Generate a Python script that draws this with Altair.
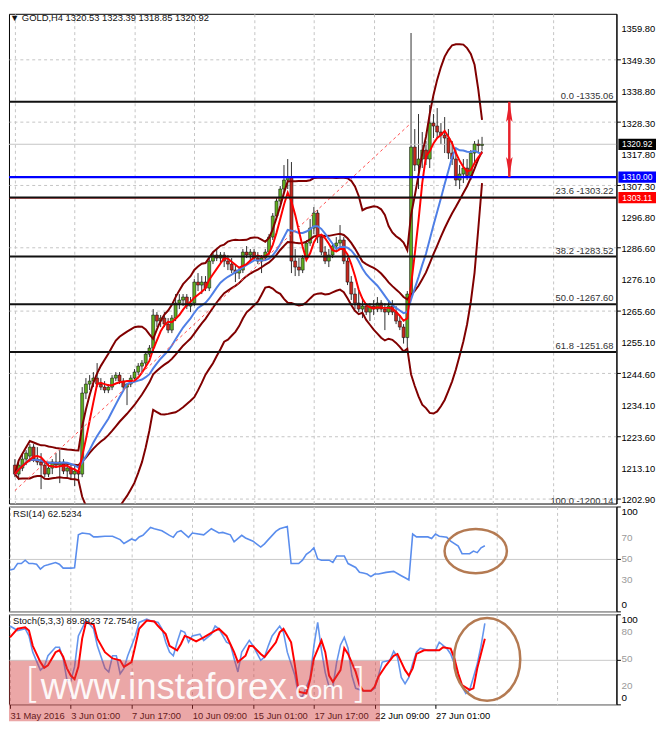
import altair as alt
import pandas as pd

# ---------------- data (GOLD, H4, bar index 0..125) ----------------
opens = [1214, 1211, 1213, 1216, 1217, 1220, 1216, 1215, 1214, 1211, 1213, 1215, 1214, 1215, 1212, 1213, 1211, 1212,
         1211, 1238, 1241, 1242, 1243, 1241, 1240, 1239, 1240, 1243, 1244, 1242, 1240, 1241, 1243, 1245, 1247, 1248, 1251, 1253,
         1264, 1262, 1263, 1261, 1259, 1263, 1268, 1269, 1270, 1267, 1268, 1275, 1274, 1275, 1273, 1282, 1284, 1283, 1284, 1282,
         1281, 1279, 1278, 1279, 1285, 1284, 1285, 1283, 1282, 1283, 1285, 1290, 1297, 1302, 1306, 1309,
         1310, 1282, 1280, 1279, 1283, 1288, 1293, 1298, 1290, 1285, 1282, 1284, 1287, 1288, 1289, 1282, 1275, 1271, 1268, 1266,
         1267, 1265, 1267, 1266, 1268, 1266, 1265, 1267, 1265, 1262, 1260, 1256.5,
         1271, 1320, 1314, 1316, 1319, 1316, 1328, 1327, 1325, 1324, 1323, 1318, 1316, 1309, 1311, 1313, 1310.5, 1318, 1321, 1320.53]
highs = [1216, 1215, 1218, 1219, 1221, 1221, 1220, 1218, 1215, 1215, 1216, 1218, 1219, 1216, 1215, 1214, 1214, 1214,
         1240, 1243, 1244, 1245, 1248, 1243, 1242, 1241, 1244, 1245, 1245, 1243, 1241, 1244, 1246, 1248, 1249, 1252, 1254, 1266,
         1265, 1264, 1265, 1263, 1264, 1271, 1271, 1271, 1271, 1270, 1276, 1278, 1277, 1277, 1283, 1285, 1286, 1285, 1285, 1284,
         1283, 1281, 1280, 1286, 1287, 1286, 1286, 1285, 1284, 1286, 1291, 1298, 1303, 1307, 1314, 1316,
         1315, 1286, 1283, 1284, 1289, 1296, 1300, 1299, 1291, 1287, 1286, 1288, 1290, 1294, 1290, 1283, 1277, 1273, 1272, 1270,
         1268, 1268, 1269, 1270, 1269, 1268, 1269, 1269, 1267, 1264, 1261, 1272,
         1358, 1326, 1331, 1325, 1322, 1334, 1331, 1333, 1328, 1330, 1326, 1322, 1319, 1314, 1316, 1316, 1319, 1322, 1322.5, 1323.39]
lows = [1210, 1209, 1212, 1214, 1215, 1215, 1214, 1206, 1210, 1210, 1211, 1213, 1208, 1211, 1210, 1209, 1207, 1209,
        1210, 1236, 1239, 1240, 1240, 1239, 1238, 1238, 1239, 1242, 1241, 1239, 1234, 1240, 1242, 1244, 1245, 1247, 1250, 1252,
        1260, 1260, 1260, 1258, 1258, 1262, 1266, 1267, 1266, 1265, 1267, 1272, 1271, 1272, 1272, 1281, 1282, 1281, 1280, 1279,
        1278, 1275, 1276, 1278, 1283, 1282, 1282, 1281, 1278, 1282, 1284, 1289, 1296, 1301, 1305, 1306,
        1278, 1277, 1277, 1278, 1282, 1287, 1291, 1288, 1284, 1281, 1280, 1283, 1285, 1286, 1281, 1274, 1269, 1266, 1265, 1263,
        1264, 1262, 1264, 1265, 1265, 1259, 1264, 1264, 1261, 1259, 1254.5, 1251.5,
        1269, 1312, 1306, 1313, 1314, 1313, 1323, 1323, 1321, 1318, 1316, 1314, 1307, 1306, 1308, 1309, 1309, 1315, 1318, 1318.85]
closes = [1211, 1214, 1216, 1218, 1220, 1216, 1215, 1214, 1211, 1213, 1215, 1214, 1215, 1212, 1213, 1211, 1212, 1211,
          1238, 1241, 1242, 1243, 1241, 1240, 1239, 1240, 1243, 1244, 1242, 1240, 1241, 1243, 1245, 1247, 1248, 1251, 1253, 1264,
          1262, 1263, 1261, 1259, 1263, 1268, 1269, 1270, 1267, 1268, 1275, 1274, 1275, 1273, 1282, 1284, 1283, 1284, 1282, 1281,
          1279, 1278, 1279, 1285, 1284, 1285, 1283, 1282, 1283, 1285, 1290, 1297, 1302, 1306, 1309, 1310,
          1282, 1280, 1279, 1283, 1288, 1293, 1298, 1290, 1285, 1282, 1284, 1287, 1288, 1289, 1282, 1275, 1271, 1268, 1266, 1267,
          1265, 1267, 1266, 1268, 1266, 1265, 1267, 1265, 1262, 1260, 1256.5, 1271,
          1320, 1314, 1316, 1319, 1316, 1328, 1327, 1325, 1324, 1323, 1318, 1316, 1309, 1311, 1313, 1310.5, 1318, 1321, 1320.5, 1320.92]

price_ticks = [1359.80, 1349.30, 1338.80, 1328.30, 1317.80, 1307.30, 1296.80, 1286.60,
               1276.10, 1265.60, 1255.10, 1244.60, 1234.10, 1223.60, 1213.10, 1202.90]
fib_levels = [1335.06, 1303.22, 1283.52, 1267.60, 1251.68, 1200.14]
fib_pcts = ["0.0", "23.6", "38.2", "50.0", "61.8", "100.0"]

rsi_ticks = [0, 30, 50, 70, 100]
sto_ticks = [0, 20, 50, 80, 100]

time_tick_bars = [0, 16, 32, 48, 64, 80, 96, 112]
time_tick_labels = ["31 May 2016", "3 Jun 01:00", "7 Jun 17:00", "10 Jun 09:00",
                    "15 Jun 01:00", "17 Jun 17:00", "22 Jun 09:00", "27 Jun 01:00"]
grid_bars = [0, 8, 16, 24, 32, 40, 48, 56, 64, 72, 80, 88, 96, 104, 112, 120, 128, 136, 144, 152]

rsi_bars = [0, 1, 2, 3, 4, 5, 6, 7, 8, 9, 10, 12, 13, 14, 16, 17, 18, 19, 21, 22, 23, 25, 27, 29, 30, 32, 33, 34, 35,
            37, 38, 40, 42, 43, 44, 45, 47, 48, 51, 53, 55, 56, 58, 59, 61, 62, 64, 66, 67, 68, 70, 71, 73, 74, 76, 77,
            78, 79, 80, 81, 82, 84, 85, 86, 88, 89, 91, 92, 93, 94, 95, 96, 97, 99, 101, 103, 104, 105, 106, 107, 110,
            111, 112, 113, 115, 116, 118, 119, 121, 122, 123, 124, 125]
rsi_vals = [39.4, 40.3, 45.6, 45.6, 48.8, 45.6, 45.6, 45.0, 40.3, 43.4, 44.4, 46.6, 45.0, 41.2, 41.2, 41.5, 73.0, 74.7,
            73.7, 71.0, 71.0, 71.6, 71.6, 68.4, 64.7, 69.0, 67.5, 71.0, 72.5, 80.0, 78.8, 76.9, 72.5, 70.6, 75.6, 76.9,
            70.6, 74.7, 73.0, 78.8, 74.7, 75.3, 73.0, 66.3, 72.5, 70.0, 66.9, 61.3, 64.4, 68.4, 76.3, 78.8, 81.0, 45.6,
            45.6, 48.8, 54.4, 56.9, 60.6, 50.0, 48.8, 48.8, 46.6, 52.8, 52.8, 45.6, 41.9, 37.2, 36.5, 35.6, 33.1, 35.6,
            35.6, 37.2, 38.1, 34.0, 32.0, 30.0, 73.7, 71.0, 71.0, 69.4, 73.7, 71.6, 70.6, 66.9, 62.2, 55.0, 55.0, 57.5,
            56.0, 60.6, 62.5]

stk_bars = [0, 2, 4, 5, 6, 8, 9, 10, 12, 13, 14, 15, 16, 17, 18, 20, 21, 22, 23, 25, 26, 27, 28, 29, 30, 31, 33, 34,
            36, 37, 39, 40, 41, 42, 43, 44, 45, 46, 47, 48, 50, 51, 53, 54, 55, 57, 58, 59, 60, 61, 63, 64, 66, 67, 68,
            69, 71, 72, 73, 75, 76, 77, 79, 80, 81, 82, 83, 84, 85, 86, 87, 88, 89, 90, 91, 93, 95, 96, 97, 98, 100,
            101, 102, 103, 104, 105, 106, 107, 108, 110, 112, 113, 115, 116, 117, 118, 119, 120, 121, 122, 123, 124, 125]
stk_vals = [87, 82, 84, 76, 58, 38, 41.6, 54, 63.5, 63.5, 51, 27, 26, 41.6, 76, 93, 89, 84, 65, 40, 36, 54, 54, 34, 40,
            54, 76, 91, 94.6, 93, 91, 84, 69, 58, 54, 69, 82, 80, 69, 76, 78, 71, 78, 87, 84, 69, 67, 51, 36, 58, 71, 65,
            49, 52.5, 65, 76, 87, 80, 58, 32, 9, 9, 29, 65, 91, 60, 35, 19.6, 19.6, 47, 66, 74.5, 62, 32, 17.8, 15, 15,
            17.8, 32, 47, 49, 59, 52.5, 30, 23, 30, 45, 58, 62.4, 60, 60, 69, 62, 56, 45, 33, 20, 12, 16, 30, 45, 65, 89.9]

std_bars = [0, 2, 4, 5, 6, 8, 9, 10, 12, 13, 14, 15, 16, 17, 18, 19, 20, 22, 23, 25, 27, 29, 30, 32, 33, 34, 36, 38,
            39, 41, 42, 44, 45, 46, 47, 49, 51, 52, 54, 55, 57, 58, 59, 60, 62, 63, 64, 66, 67, 68, 70, 71, 72, 74, 75,
            76, 78, 79, 80, 82, 83, 84, 85, 87, 88, 89, 91, 92, 93, 95, 96, 97, 99, 101, 102, 103, 104, 105, 106, 107,
            109, 111, 113, 114, 116, 117, 118, 119, 121, 122, 123, 125]
std_vals = [74.5, 84, 85.5, 82, 65, 47, 40.5, 43.4, 58, 60, 53, 40, 32, 28, 41.6, 73, 91, 89, 73, 58, 51, 49, 41.6, 47,
            65, 84, 93, 92, 87, 78, 65, 60, 67, 76, 74.5, 70, 74.5, 77, 82, 84, 76, 67, 58, 47, 54, 65, 64.6, 56, 52.5,
            58, 69, 80, 84, 69, 43.4, 14, 12, 27, 51, 71, 58, 32, 25, 38, 62.4, 56, 36, 21.4, 15, 15, 19.6, 30.6, 43.4,
            54, 56, 47, 38, 32, 40, 56, 60, 60, 60, 63.5, 62, 51, 34, 21.4, 16, 17.8, 40, 72.8]

trend_bars = [0, 106]
trend_prices = [1205.5, 1328.0]

level_prices = [1320.92, 1310.00, 1303.11]
level_texts = ["1320.92", "1310.00", "1303.11"]
level_line_colors = ["#c4c4c4", "#0000ff", "#ff0000"]
level_badge_colors = ["#000000", "#0000ff", "#ff0000"]

arrow_bar = 132.3
arrow_top = 1335.06
arrow_bottom = 1310.00

rsi_circle = {"bar": [122.6], "v": [57.5]}
sto_circle = {"bar": [125.6], "v": [50.0]}

# ---------------- layout / style ----------------
W = 614
H_MAIN, H_RSI, H_STO = 495, 106, 91
FONT = "Liberation Sans"
GRID = "#c4c4c4"
BULL, BEAR = "#5fae1e", "#c8281e"
MAROON = "#800000"
BLUE_MA = "#4f7fe6"
RSI_BLUE = "#5a8ded"
LBL_X = W + 5

xs = alt.Scale(domain=[-0.26, 159.64], nice=False, zero=False)
ys = alt.Scale(domain=[1201.2, 1364.4], nice=False, zero=False)
ps = alt.Scale(domain=[0, 100], nice=False, zero=False)


def XQ(**kw):
    return alt.X("bar:Q", scale=xs, **kw)


def YP(field, **kw):
    return alt.Y(field, scale=ys, **kw)


def YS(field, **kw):
    return alt.Y(field, scale=ps, **kw)


grid_x_axis = alt.Axis(values=grid_bars, labels=False, ticks=False, domain=False, grid=True,
                       gridDash=[3, 3], gridColor=GRID, title=None)
price_axis = alt.Axis(orient="right", values=price_ticks, labels=False, grid=True, gridDash=[3, 3],
                      gridColor=GRID, title=None, tickSize=4, tickColor="black", domainColor="black")

ohlc = pd.DataFrame({"bar": list(range(len(closes))), "o": opens, "h": highs, "l": lows, "c": closes})
base = alt.Chart(ohlc)

wicks = base.mark_rule(color="#303030", strokeWidth=1, clip=True).encode(
    x=XQ(axis=grid_x_axis), y=YP("l:Q", axis=price_axis), y2="h:Q")
bodies = base.mark_bar(size=3, stroke="#1a1a1a", strokeWidth=0.6, clip=True).encode(
    x=XQ(), y=YP("o:Q"), y2="c:Q",
    color=alt.condition("datum.c >= datum.o", alt.value(BULL), alt.value(BEAR)))

ind = (
    base.transform_calculate(c2="datum.c * datum.c")
    .transform_window(sma5="mean(c)", frame=[-4, 0], sort=[alt.SortField("bar")])
    .transform_window(sma13="mean(c)", frame=[-12, 0], sort=[alt.SortField("bar")])
    .transform_window(sma20="mean(c)", m2="mean(c2)", frame=[-19, 0], sort=[alt.SortField("bar")])
    .transform_calculate(sd="sqrt(max(0, datum.m2 - datum.sma20 * datum.sma20))")
    .transform_calculate(bbu="datum.sma20 + 2 * datum.sd", bbl="datum.sma20 - 2 * datum.sd")
)


def ind_line(field, color, w):
    return ind.mark_line(color=color, strokeWidth=w, clip=True).encode(x=XQ(), y=YP(f"{field}:Q"))


levels = pd.DataFrame({"y": level_prices, "txt": level_texts, "lc": level_line_colors, "bc": level_badge_colors})
gray_line = alt.Chart(levels.iloc[[0]]).mark_rule(strokeWidth=1, clip=True).encode(
    y=YP("y:Q"), color=alt.Color("lc:N", scale=None))
red_line = alt.Chart(levels.iloc[[2]]).mark_rule(strokeWidth=1.5, clip=True).encode(
    y=YP("y:Q"), color=alt.Color("lc:N", scale=None))
blue_line = alt.Chart(levels.iloc[[1]]).mark_rule(strokeWidth=2.2, clip=True).encode(
    y=YP("y:Q"), color=alt.Color("lc:N", scale=None))

fib = pd.DataFrame({"y": fib_levels, "label": [f"{p} -{v:.2f}" for p, v in zip(fib_pcts, fib_levels)]})
fib_rules = alt.Chart(fib).mark_rule(color="#111111", strokeWidth=2, clip=True).encode(y=YP("y:Q"))
fib_text = alt.Chart(fib).mark_text(align="right", baseline="bottom", dx=-3, dy=-1, fontSize=9.5, font=FONT,
                                    color="#333333", clip=True).encode(
    x=alt.value(W), y=YP("y:Q"), text="label:N")

trend = alt.Chart(pd.DataFrame({"bar": trend_bars, "y": trend_prices})).mark_line(
    color="#ff5050", strokeWidth=1, strokeDash=[3, 3], clip=True).encode(x=XQ(), y=YP("y:Q"))

arrow_df = pd.DataFrame({"bar": [arrow_bar, arrow_bar], "y": [arrow_top, arrow_bottom]})
shaft = alt.Chart(arrow_df).mark_line(color="#e8212b", strokeWidth=2.5).encode(x=XQ(), y=YP("y:Q"))
head_up = alt.Chart(arrow_df.iloc[[0]]).mark_point(
    shape="M0,-1L0.32,1L0,0.62L-0.32,1Z", filled=True, size=420, color="#e8212b", opacity=1, yOffset=10
).encode(x=XQ(), y=YP("y:Q"))
head_dn = alt.Chart(arrow_df.iloc[[1]]).mark_point(
    shape="M0,1L0.32,-1L0,-0.62L-0.32,-1Z", filled=True, size=420, color="#e8212b", opacity=1, yOffset=-10
).encode(x=XQ(), y=YP("y:Q"))

price_lbl_df = pd.DataFrame({"y": price_ticks, "t": [f"{v:.2f}" for v in price_ticks]})
price_lbl = alt.Chart(price_lbl_df).mark_text(align="left", baseline="middle", dy=1.5, fontSize=9.5, font=FONT,
                                              color="black").encode(x=alt.value(LBL_X), y=YP("y:Q"), text="t:N")

badge_bg = alt.Chart(levels).mark_point(
    shape="M-1,-0.3L1,-0.3L1,0.3L-1,0.3Z", filled=True, size=1444, opacity=1, strokeWidth=0
).encode(x=alt.value(W + 21), y=YP("y:Q"), color=alt.Color("bc:N", scale=None))
badge_tx = alt.Chart(levels).mark_text(color="white", fontSize=8.5, font=FONT).encode(
    x=alt.value(W + 21), y=YP("y:Q"), text="txt:N")

one = pd.DataFrame({"t": ["\u25bc GOLD,H4  1320.53 1323.39 1318.85 1320.92"]})
title_main = alt.Chart(one).mark_text(align="left", baseline="middle", fontSize=9.5, font=FONT,
                                      color="#111111").encode(x=alt.value(1), y=alt.value(4), text="t:N")

main = alt.layer(
    wicks, gray_line, bodies,
    ind_line("bbu", MAROON, 2), ind_line("sma20", MAROON, 2), ind_line("bbl", MAROON, 2),
    ind_line("sma13", BLUE_MA, 2), ind_line("sma5", "#ff0000", 2),
    trend, red_line, fib_rules, blue_line, fib_text,
    shaft, head_up, head_dn, price_lbl, badge_bg, badge_tx, title_main,
).properties(width=W, height=H_MAIN)


def ellipse_path(ry):
    k = 0.5523
    return (f"M1,0C1,{k*ry:.3f} {k:.3f},{ry:.3f} 0,{ry:.3f}"
            f"C{-k:.3f},{ry:.3f} -1,{k*ry:.3f} -1,0"
            f"C-1,{-k*ry:.3f} {-k:.3f},{-ry:.3f} 0,{-ry:.3f}"
            f"C{k:.3f},{-ry:.3f} 1,{-k*ry:.3f} 1,0Z")


def osc_labels(ticks):
    """Right-hand labels of an oscillator panel: ends flush and black, inner levels grey."""
    df = pd.DataFrame({"v": ticks, "t": [str(v) for v in ticks]})
    top = alt.Chart(df[df.v == max(ticks)]).mark_text(
        align="left", baseline="top", dy=1, fontSize=10, font=FONT, color="black").encode(
        x=alt.value(LBL_X), y=YS("v:Q"), text="t:N")
    mid = alt.Chart(df[(df.v > min(ticks)) & (df.v < max(ticks))]).mark_text(
        align="left", baseline="middle", fontSize=10, font=FONT, color="#9a9a9a").encode(
        x=alt.value(LBL_X), y=YS("v:Q"), text="t:N")
    bot = alt.Chart(df[df.v == min(ticks)]).mark_text(
        align="left", baseline="bottom", dy=-1, fontSize=10, font=FONT, color="black").encode(
        x=alt.value(LBL_X), y=YS("v:Q"), text="t:N")
    return [top, mid, bot]


# ---------------- RSI panel ----------------
rsi_axis = alt.Axis(orient="right", values=rsi_ticks, labels=False, grid=True, gridColor="#c8c8c8",
                    tickSize=4, title=None, tickColor="black", domainColor="black")
rsi_df = pd.DataFrame({"bar": rsi_bars, "v": rsi_vals})
rsi_line = alt.Chart(rsi_df).mark_line(color=RSI_BLUE, strokeWidth=1.6, clip=True).encode(
    x=XQ(axis=grid_x_axis), y=YS("v:Q", axis=rsi_axis))
rsi_lbl = alt.Chart(pd.DataFrame({"t": ["RSI(14) 62.5234"]})).mark_text(
    align="left", baseline="middle", fontSize=9.5, font=FONT, color="#111111").encode(
    x=alt.value(4), y=alt.value(8), text="t:N")
rsi_ell = alt.Chart(pd.DataFrame(rsi_circle)).mark_point(
    shape=ellipse_path(0.71), size=3969, filled=False, color="#b47a52", strokeWidth=2.5, opacity=1).encode(
    x=XQ(), y=YS("v:Q"))
rsi = alt.layer(rsi_line, rsi_lbl, rsi_ell, *osc_labels(rsi_ticks)).properties(width=W, height=H_RSI)

# ---------------- Stochastic panel ----------------
label_expr = "".join(f"datum.value == {b} ? '{t}' : " for b, t in zip(time_tick_bars, time_tick_labels)) + "''"
tick_test = " || ".join(f"datum.value == {b}" for b in time_tick_bars)
time_axis = alt.Axis(values=grid_bars, labelExpr=label_expr, grid=True, gridDash=[3, 3], gridColor=GRID,
                     tickSize=4, labelAlign="left", labelPadding=2, labelFlush=False, labelOverlap=False,
                     tickOpacity={"condition": {"test": tick_test, "value": 1}, "value": 0},
                     domain=False, title=None, labelFontSize=9.5, labelFont=FONT, labelColor="black",
                     tickColor="black")
sto_axis = alt.Axis(orient="right", values=sto_ticks, labels=False, grid=True, gridColor="#c8c8c8",
                    tickSize=4, title=None, tickColor="black", domainColor="black")
k_line = alt.Chart(pd.DataFrame({"bar": stk_bars, "v": stk_vals})).mark_line(
    color="#6495ed", strokeWidth=1.6, clip=True).encode(
    x=XQ(axis=time_axis), y=YS("v:Q", axis=sto_axis))
d_line = alt.Chart(pd.DataFrame({"bar": std_bars, "v": std_vals})).mark_line(
    color="#ff0000", strokeWidth=2, clip=True).encode(x=XQ(), y=YS("v:Q"))
sto_lbl = alt.Chart(pd.DataFrame({"t": ["Stoch(5,3,3) 89.8923 72.7548"]})).mark_text(
    align="left", baseline="middle", fontSize=9.5, font=FONT, color="#111111").encode(
    x=alt.value(4), y=alt.value(7), text="t:N")
sto_ell = alt.Chart(pd.DataFrame(sto_circle)).mark_point(
    shape=ellipse_path(1.25), size=4489, filled=False, color="#b47a52", strokeWidth=2.5, opacity=1).encode(
    x=XQ(), y=YS("v:Q"))

wm = pd.DataFrame({"a": [0]})
wm_rect = alt.Chart(wm).mark_rect(color="#d23c3c", opacity=0.45).encode(
    x=alt.value(0), x2=alt.value(375), y=alt.value(47), y2=alt.value(108))
wm_www = alt.Chart(pd.DataFrame({"t": ["www.instaforex"]})).mark_text(
    align="left", baseline="alphabetic", fontSize=37, font=FONT, color="white", opacity=0.92).encode(
    x=alt.value(32), y=alt.value(86), text="t:N")
wm_com = alt.Chart(pd.DataFrame({"t": [".com"]})).mark_text(
    align="left", baseline="alphabetic", fontSize=26, font=FONT, color="white", opacity=0.92).encode(
    x=alt.value(282), y=alt.value(86), text="t:N")
wm_l = alt.Chart(pd.DataFrame({"t": ["["]})).mark_text(
    align="left", baseline="alphabetic", fontSize=41, font="DejaVu Sans", fontWeight=200, color="white",
    opacity=0.92).encode(x=alt.value(16), y=alt.value(84), text="t:N")
wm_r = alt.Chart(pd.DataFrame({"t": ["]"]})).mark_text(
    align="left", baseline="alphabetic", fontSize=41, font="DejaVu Sans", fontWeight=200, color="white",
    opacity=0.92).encode(x=alt.value(345), y=alt.value(84), text="t:N")

sto = alt.layer(k_line, d_line, sto_lbl, sto_ell, *osc_labels(sto_ticks),
                wm_rect, wm_www, wm_com, wm_l, wm_r).properties(width=W, height=H_STO)

chart = (
    alt.vconcat(main, rsi, sto, spacing=3, bounds="flush")
    .properties(padding={"left": 0, "top": 0, "right": 0, "bottom": 0})
    .configure(background="white")
    .configure_view(stroke="black", strokeWidth=1)
    .configure_axis(labelFont=FONT, labelColor="black", tickColor="black", domainColor="black",
                    labelOverlap=False)
)

chart.save("out.html", embed_options={"renderer": "svg", "actions": False})
